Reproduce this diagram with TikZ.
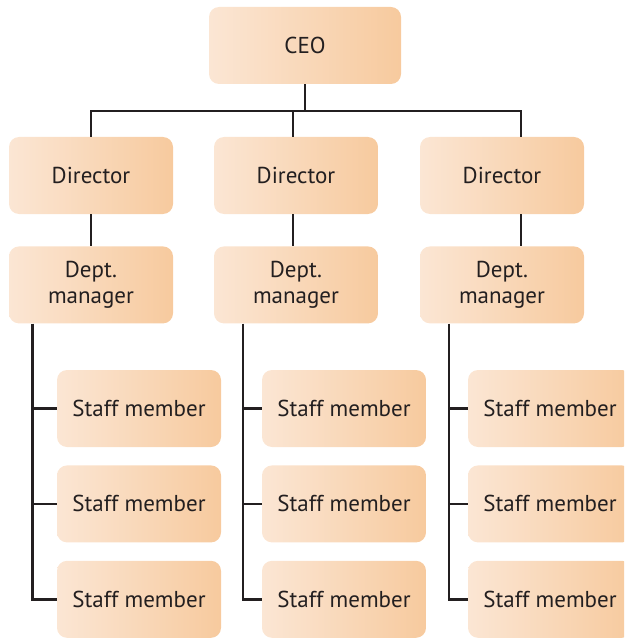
\documentclass[tikz,border=0pt]{standalone}
\usepackage{fontspec}
\setmainfont{PT Sans}
\usetikzlibrary{positioning}
\definecolor{peachlight}{RGB}{251,230,212}
\definecolor{peachdark}{RGB}{247,202,158}
\definecolor{inkgray}{RGB}{35,31,32}
\tikzset{box/.style={rounded corners=10pt, left color=peachlight, right color=peachdark,
    minimum width=164pt, minimum height=77pt, inner sep=0pt, align=center,
    text=inkgray, font=\fontsize{23}{26.5}\selectfont}}
\tikzset{link/.style={draw=inkgray, line width=2.6pt}}

\begin{document}
\begin{tikzpicture}[x=1pt,y=-1pt]

  \useasboundingbox (0,0) rectangle (624,639);
  \clip (0,0) rectangle (624,639);

  % Nodes
  \node[box, minimum width=192pt] (ceo)  at (305,45.5)  {CEO} ;
  \node[box]                      (dir1) at (91,175.5)  {Director} ;
  \node[box]                      (dir2) at (296,175.5) {Director} ;
  \node[box]                      (dir3) at (502,175.5) {Director} ;
  \node[box, below=32pt of dir1]  (mgr1) {Dept.\\manager} ;
  \node[box, below=32pt of dir2]  (mgr2) {Dept.\\manager} ;
  \node[box, below=32pt of dir3]  (mgr3) {Dept.\\manager} ;

  \node[box] (staff1a) at (139,408.5) {Staff member} ;
  \node[box, below=18pt of staff1a] (staff1b) {Staff member} ;
  \node[box, below=18pt of staff1b] (staff1c) {Staff member} ;
  \node[box] (staff2a) at (344,408.5) {Staff member} ;
  \node[box, below=18pt of staff2a] (staff2b) {Staff member} ;
  \node[box, below=18pt of staff2b] (staff2c) {Staff member} ;
  \node[box] (staff3a) at (550,408.5) {Staff member} ;
  \node[box, below=18pt of staff3a] (staff3b) {Staff member} ;
  \node[box, below=18pt of staff3b] (staff3c) {Staff member} ;

  % Edges
  \coordinate (bus) at (0,111);
  \coordinate (top1) at (dir1.north);
  \coordinate (top2) at ([xshift=-3pt]dir2.north);
  \coordinate (top3) at ([xshift=19pt]dir3.north);
  \draw[link] (ceo.south) -- (ceo.south |- bus);
  \draw[link] (top1) -- (top1 |- bus) -- (top3 |- bus) -- (top3);
  \draw[link] (top2) -- (top2 |- bus);
  \draw[link] (dir1.south) -- (mgr1.north);
  \draw[link] ([xshift=-3pt]dir2.south) -- ([xshift=-3pt]mgr2.north);
  \draw[link] ([xshift=19pt]dir3.south) -- ([xshift=19pt]mgr3.north);

  \coordinate (trunk1) at ([xshift=23.5pt]mgr1.south west);
  \coordinate (trunk2) at ([xshift=29pt]mgr2.south west);
  \coordinate (trunk3) at ([xshift=29pt]mgr3.south west);
  \draw[link] (trunk1) |- (staff1c.west);
  \draw[link] (trunk1 |- staff1a) -- (staff1a.west);
  \draw[link] (trunk1 |- staff1b) -- (staff1b.west);
  \draw[link] (trunk2) |- (staff2c.west);
  \draw[link] (trunk2 |- staff2a) -- (staff2a.west);
  \draw[link] (trunk2 |- staff2b) -- (staff2b.west);
  \draw[link] (trunk3) |- (staff3c.west);
  \draw[link] (trunk3 |- staff3a) -- (staff3a.west);
  \draw[link] (trunk3 |- staff3b) -- (staff3b.west);

\end{tikzpicture}
\end{document}
